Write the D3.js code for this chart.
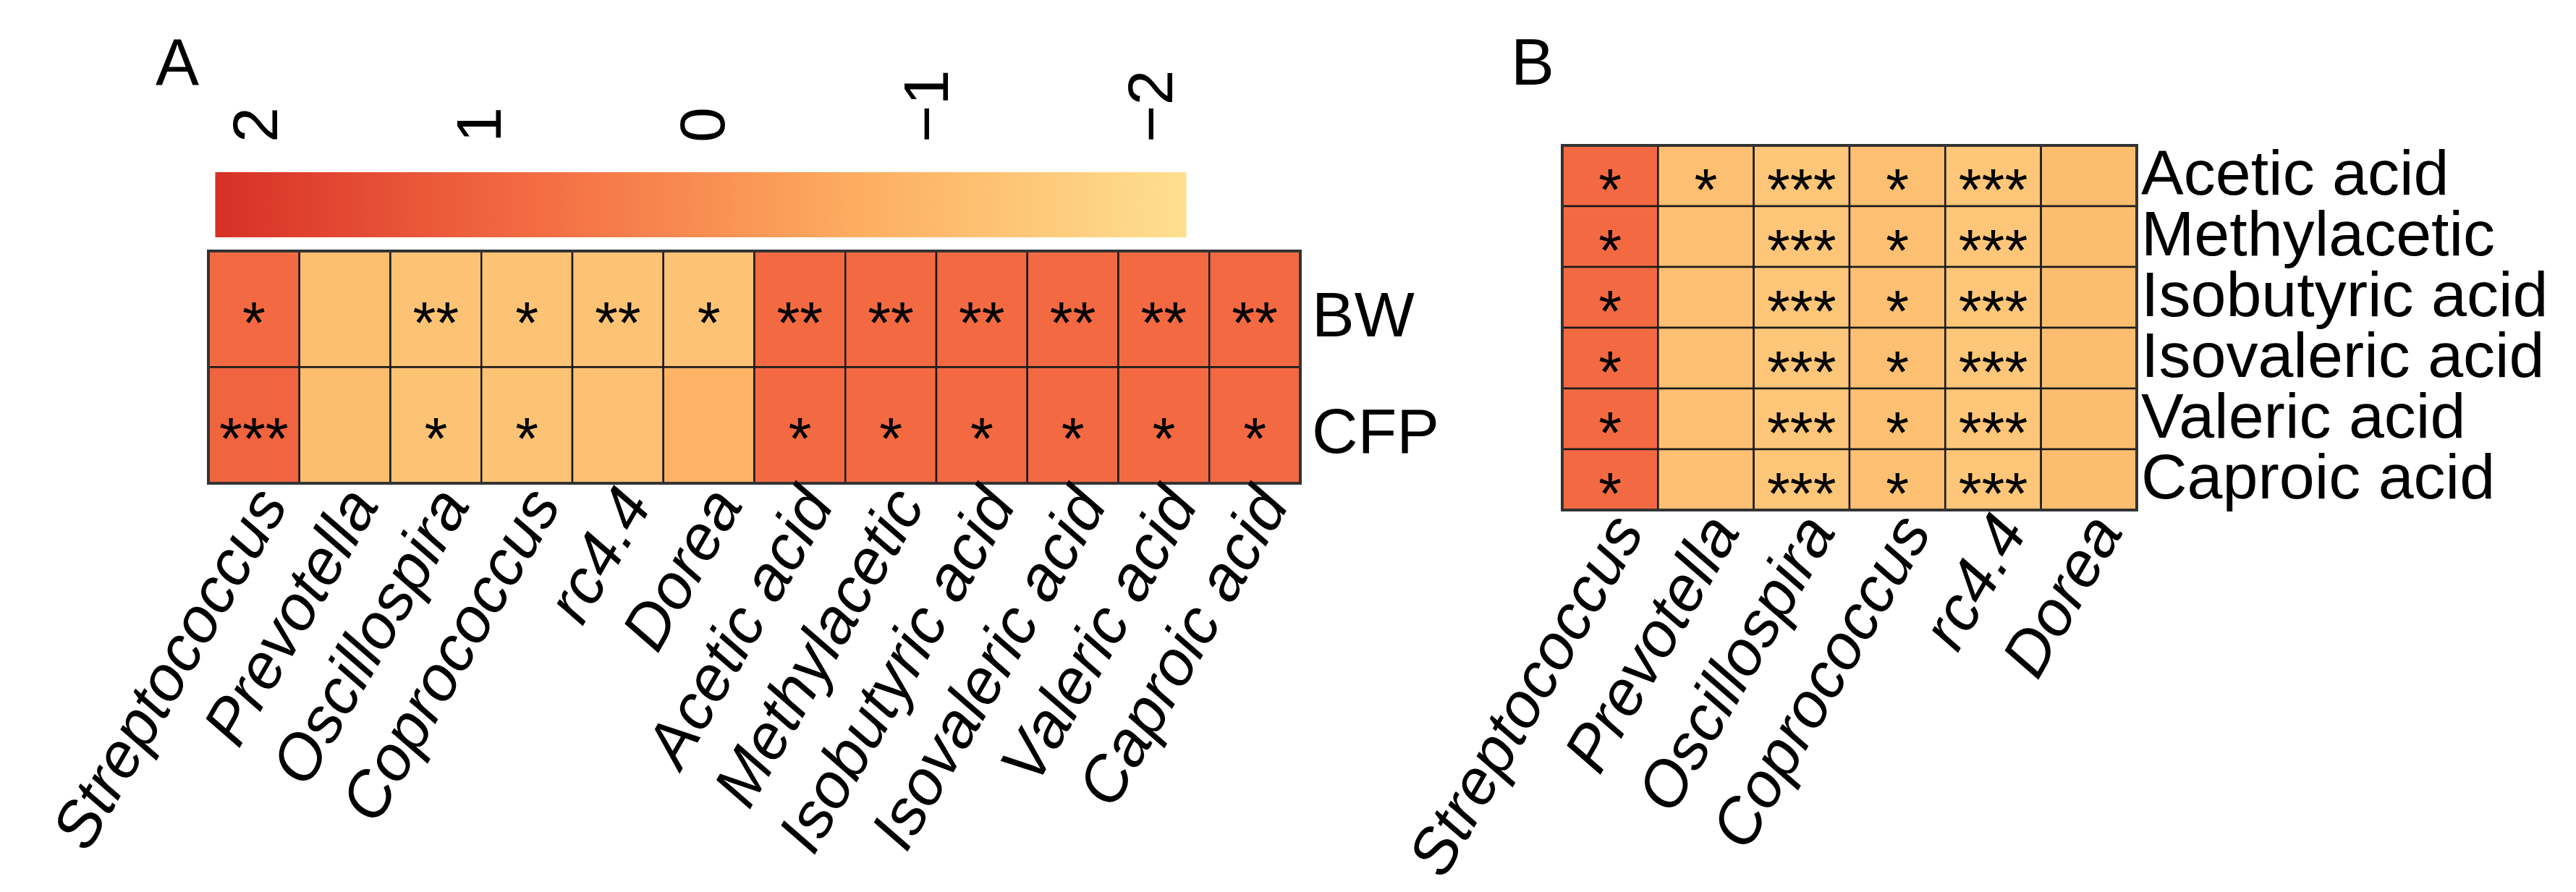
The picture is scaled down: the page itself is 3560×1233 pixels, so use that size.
<!DOCTYPE html>
<html>
<head>
<meta charset="utf-8">
<script src="https://cdn.jsdelivr.net/npm/d3@7"></script>
<style>
  body { margin: 0; background: #fff; }
  text { font-family: 'Liberation Sans', Arial, sans-serif; fill: #000; }
</style>
</head>
<body>
<div id="chart"></div>
<script>
// Panel A data
const colsA = ['Streptococcus', 'Prevotella', 'Oscillospira', 'Coprococcus', 'rc4.4', 'Dorea',
    'Acetic acid', 'Methylacetic', 'Isobutyric acid', 'Isovaleric acid', 'Valeric acid', 'Caproic acid'];
const rowsA = ['BW', 'CFP'];
const valuesBW = [0.79, -1.2, -1.33, -1.33, -1.33, -1.33, 0.79, 0.79, 0.79, 0.79, 0.79, 0.79];
const valuesCFP = [0.94, -1.16, -1.33, -1.33, -1.25, -0.84, 0.79, 0.79, 0.79, 0.79, 0.79, 0.79];
const starsBW = ['*', '', '**', '*', '**', '*', '**', '**', '**', '**', '**', '**'];
const starsCFP = ['***', '', '*', '*', '', '', '*', '*', '*', '*', '*', '*'];

// Panel B data
const colsB = ['Streptococcus', 'Prevotella', 'Oscillospira', 'Coprococcus', 'rc4.4', 'Dorea'];
const rowsB = ['Acetic acid', 'Methylacetic', 'Isobutyric acid', 'Isovaleric acid', 'Valeric acid', 'Caproic acid'];
const valuesB = [
    [0.79, -1.21, -1.42, -1.25, -1.42, -1.16],
    [0.79, -1.21, -1.42, -1.25, -1.42, -1.16],
    [0.79, -1.21, -1.42, -1.25, -1.42, -1.16],
    [0.79, -1.21, -1.42, -1.25, -1.42, -1.16],
    [0.79, -1.21, -1.42, -1.25, -1.42, -1.16],
    [0.79, -1.21, -1.42, -1.25, -1.42, -1.16]
];
const starsB = [
    ['*', '*', '***', '*', '***', ''],
    ['*', '', '***', '*', '***', ''],
    ['*', '', '***', '*', '***', ''],
    ['*', '', '***', '*', '***', ''],
    ['*', '', '***', '*', '***', ''],
    ['*', '', '***', '*', '***', '']
];

// Legend
const legendTicks = [2, 1, 0, -1, -2];
const legendLimits = [2.17, -2.17];
const palette = ['#d73027', '#f46d43', '#fdae61', '#fee090'];

const W = 3560, H = 1233;
const fs = 88;

const svg = d3.select('#chart').append('svg')
    .attr('width', W)
    .attr('height', H);
svg.append('rect').attr('width', W).attr('height', H).attr('fill', '#fff');

const color = d3.scaleLinear()
    .domain(d3.range(palette.length).map(i => legendLimits[0] + (legendLimits[1] - legendLimits[0]) * i / (palette.length - 1)))
    .range(palette)
    .interpolate(d3.interpolateRgb);

const fmt = v => v < 0 ? '\u2212' + Math.abs(v) : String(v);

// ---------- colour bar ----------
const lx = d3.scaleLinear().domain([2, -2]).range([350, 1587]);
const grad = svg.append('defs').append('linearGradient')
    .attr('id', 'cbar')
    .attr('x1', '0%').attr('x2', '100%');
palette.forEach((c, i) => {
    grad.append('stop')
        .attr('offset', (100 * i / (palette.length - 1)) + '%')
        .attr('stop-color', c);
});
svg.append('rect')
    .attr('x', lx(legendLimits[0]))
    .attr('y', 238)
    .attr('width', lx(legendLimits[1]) - lx(legendLimits[0]))
    .attr('height', 90)
    .attr('fill', 'url(#cbar)');

svg.selectAll('.ltick')
    .data(legendTicks)
    .enter()
    .append('text')
    .attr('class', 'ltick')
    .attr('transform', d => `translate(${lx(d) + 0.37 * fs},197) rotate(-90)`)
    .attr('font-size', fs)
    .attr('text-anchor', 'start')
    .text(fmt);

// ---------- heatmap helper ----------
function heatmap(opt) {
    const x = d3.scaleBand().domain(opt.cols).range([opt.x0, opt.x1]);
    const y = d3.scaleBand().domain(opt.rows).range([opt.y0, opt.y1]);
    const g = svg.append('g');

    const cells = [];
    opt.rows.forEach((r, i) => {
        opt.cols.forEach((c, j) => {
            cells.push({ row: r, col: c, v: opt.values[i][j], s: opt.stars[i][j] });
        });
    });

    g.selectAll('rect.cell')
        .data(cells)
        .enter()
        .append('rect')
        .attr('class', 'cell')
        .attr('x', d => x(d.col))
        .attr('y', d => y(d.row))
        .attr('width', x.bandwidth())
        .attr('height', y.bandwidth())
        .attr('fill', d => color(d.v))
        .attr('stroke', '#1a1a1a')
        .attr('stroke-width', 2.5);

    g.append('rect')
        .attr('x', opt.x0).attr('y', opt.y0)
        .attr('width', opt.x1 - opt.x0).attr('height', opt.y1 - opt.y0)
        .attr('fill', 'none')
        .attr('stroke', '#333')
        .attr('stroke-width', 4);

    g.selectAll('text.star')
        .data(cells.filter(d => d.s))
        .enter()
        .append('text')
        .attr('class', 'star')
        .attr('x', d => x(d.col) + x.bandwidth() / 2)
        .attr('y', d => y(d.row) + y.bandwidth() / 2 + 0.57 * 82)
        .attr('text-anchor', 'middle')
        .attr('font-size', 82)
        .text(d => d.s);

    // column labels, italic, rotated
    g.selectAll('text.clab')
        .data(opt.cols)
        .enter()
        .append('text')
        .attr('class', 'clab')
        .attr('transform', d => `translate(${x(d) + x.bandwidth() / 2 + 22},${opt.y1 + 14}) rotate(-60)`)
        .attr('text-anchor', 'end')
        .attr('dy', '0.35em')
        .attr('font-size', fs)
        .attr('font-style', 'italic')
        .text(d => d);

    // row labels
    g.selectAll('text.rlab')
        .data(opt.rows)
        .enter()
        .append('text')
        .attr('class', 'rlab')
        .attr('x', opt.x1 + opt.rowGap)
        .attr('y', d => y(d) + y.bandwidth() / 2 + opt.rowDy)
        .attr('font-size', fs)
        .text(d => d);
}

heatmap({
    cols: colsA, rows: rowsA,
    values: [valuesBW, valuesCFP], stars: [starsBW, starsCFP],
    x0: 288, x1: 1797, y0: 347, y1: 668,
    rowGap: 16, rowDy: 38
});

heatmap({
    cols: colsB, rows: rowsB,
    values: valuesB, stars: starsB,
    x0: 2159, x1: 2953, y0: 201, y1: 705,
    rowGap: 6, rowDy: 26
});

// panel letters
svg.append('text').attr('x', 215).attr('y', 117).attr('font-size', 90).text('A');
svg.append('text').attr('x', 2088).attr('y', 117).attr('font-size', 90).text('B');
</script>
</body>
</html>
